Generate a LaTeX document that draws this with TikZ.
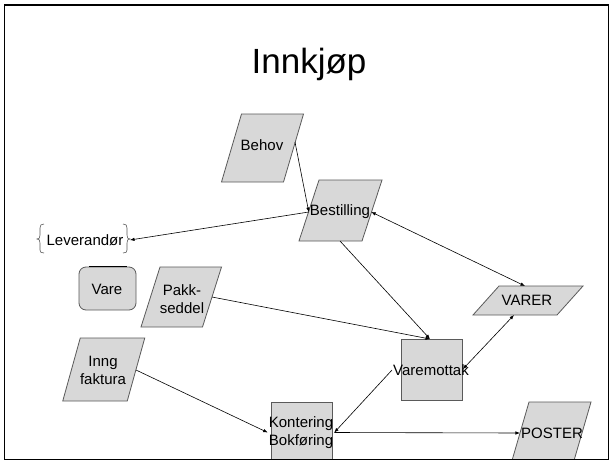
\documentclass[tikz,border=0pt]{standalone}
\usepackage{fontspec}
\setmainfont{Liberation Sans}
\usetikzlibrary{arrows.meta}
\definecolor{shapefill}{RGB}{216,216,216}
\definecolor{shapeline}{RGB}{90,90,90}
\newcommand{\paragram}[5]{% cx, cy, w, h, s
  \filldraw[shapebox] ({#1-#3/2-#5/2},{#2+#4/2}) -- ({#1+#3/2-#5/2},{#2+#4/2})
    -- ({#1+#3/2+#5/2},{#2-#4/2}) -- ({#1-#3/2+#5/2},{#2-#4/2}) -- cycle;}
\tikzset{
  shapebox/.style={fill=shapefill, draw=shapeline, line width=0.8pt},
  lbl/.style={font=\fontsize{15}{18}\selectfont, inner sep=1pt, align=center},
  conn/.style={draw=black, line width=0.6pt, -{Latex[length=4.5pt,width=3.5pt]}},
  biconn/.style={draw=black, line width=0.6pt, {Latex[length=4.5pt,width=3.5pt]}-{Latex[length=4.5pt,width=3.5pt]}},
}
\begin{document}
\begin{tikzpicture}[x=1pt,y=-1pt]
\useasboundingbox (0,0) rectangle (610,461);
\fill[white] (0,0) rectangle (610,461);
\begin{scope}
\clip (4.5,5) rectangle (608.5,459.5);
% shapes
\paragram{262.5}{148}{62}{68}{20}
\paragram{340.5}{210.5}{63}{61}{20}
\paragram{181.25}{297}{61.5}{60}{19}
\paragram{103.75}{369.5}{64.5}{63}{17.5}
\paragram{528}{300.5}{84}{29}{26}
\paragram{551}{433}{62}{62}{18}
\filldraw[shapebox] (401,339) rectangle (462,400);
\filldraw[shapebox] (271,402) rectangle (332,470);
\filldraw[shapebox, rounded corners=7pt] (79,267) rectangle (136,310);
\draw[black, line width=1.3pt] (89,266.6) -- (127,266.6);
% braces
\draw[shapeline, line width=0.6pt] (44,224) .. controls (41,224) and (40,225) .. (40,228) -- (40,235)
  .. controls (40,238) and (39,239) .. (37,239) .. controls (39,239) and (40,240) .. (40,243) -- (40,250)
  .. controls (40,252) and (41,253) .. (44,253);
\draw[shapeline, line width=0.6pt] (123,224) .. controls (126,224) and (127,225) .. (127,228) -- (127,235)
  .. controls (127,238) and (128,239) .. (130,239) .. controls (128,239) and (127,240) .. (127,243) -- (127,250)
  .. controls (127,252) and (126,253) .. (123,253);
% text nodes
\node[font=\fontsize{35}{40}\selectfont, inner sep=0pt, anchor=base] (title) at (309,73) {Innkjøp};
\node[lbl] (behov) at (262,145) {Behov};
\node[lbl] (bestilling) at (340,212) {Bestilling};
\node[lbl] (leverandor) at (85,240) {Leverandør};
\node[lbl] (vare) at (107,289) {Vare};
\node[lbl] (pakk) at (182,299) {Pakk-\\seddel};
\node[lbl] (inng) at (103,370) {Inng\\faktura};
\node[lbl] (varer) at (527,300) {VARER};
\node[lbl] (varemottak) at (431,370) {Varemottak};
\node[lbl] (kontering) at (301,432.5) {Kontering\\Bokføring};
\node[lbl] (poster) at (552,433) {POSTER};
% connector anchor points on shape borders
\coordinate (behovR) at (295,142);
\coordinate (bestB) at (340,241);
\coordinate (levR) at (130,240);
\coordinate (varerT) at (525,286);
\coordinate (varerB) at (514,315);
\coordinate (pakkR) at (212,297);
\coordinate (inngR) at (136,370);
\coordinate (vmT) at (430,339);
\coordinate (vmR) at (463,369);
% connectors
\draw[conn] (behovR) -- (bestilling.west);
\draw[conn] (bestilling.west) -- (levR);
\draw[biconn] (bestilling.east) -- (varerT);
\draw[conn] (bestB) -- (vmT);
\draw[conn] (pakkR) -- (vmT);
\draw[biconn] (varerB) -- (vmR);
\draw[conn] (inngR) -- (kontering.west);
\draw[conn] (varemottak.west) -- (kontering.east);
\draw[conn] (kontering.east) -- (poster.west);
\end{scope}
\draw[black, line width=1.8pt] (4.5,5) rectangle (608.5,459.5);
\end{tikzpicture}
\end{document}
